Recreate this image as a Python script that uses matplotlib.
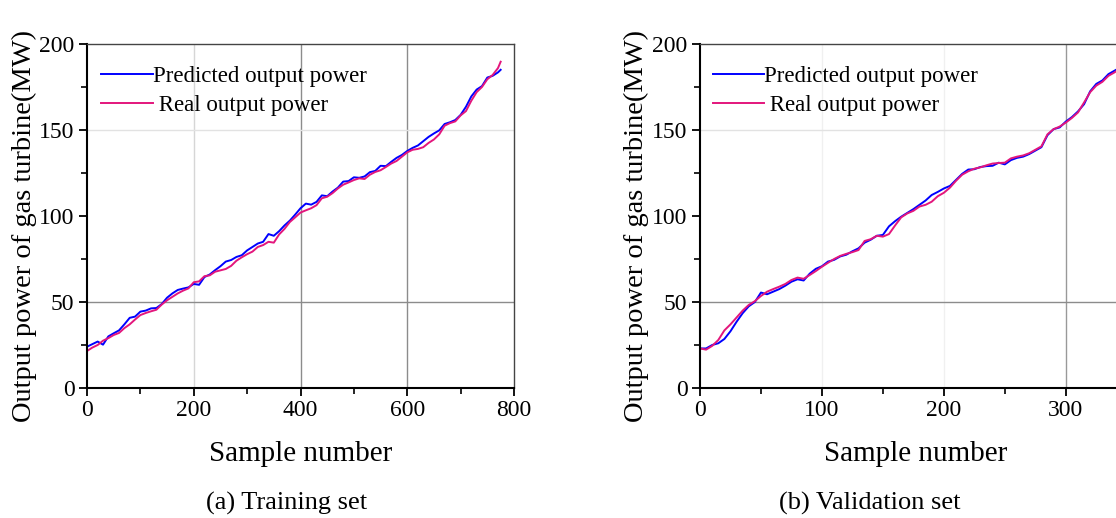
"""Predicted vs real gas turbine output power (training / validation)."""
import matplotlib
matplotlib.use("Agg")
import matplotlib.pyplot as plt
from matplotlib.ticker import MultipleLocator

plt.rcParams["font.family"] = ["Liberation Serif", "DejaVu Serif"]

# ---- data ----
train_samples = list(range(0, 780, 10)) + [775]
train_samples = sorted(set(train_samples))
train_real = [21.5, 23.5, 25, 27.5, 29, 30.8, 32, 34.8, 37, 39.8,
              42.4, 43.6, 44.6, 45.5, 48.5, 51, 53, 55, 56.6, 57.9,
              61.5, 62, 65, 65.5, 67.6, 68.4, 69.2, 71, 74, 76,
              77.8, 79.3, 82, 83.1, 85, 84.5, 89.3, 92.5, 96.5, 99.2,
              102, 103.3, 104.5, 106.3, 110.3, 111.2, 113.3, 116, 118.2, 119.5,
              120.9, 121.9, 121.5, 124, 125.6, 126.6, 128.5, 130.5, 132, 134.5,
              137, 138.5, 139, 140, 142.5, 144.5, 147.5, 152.5, 154, 155,
              158.5, 161, 167, 172, 175, 179.5, 182, 186, 189.7]
train_pred = [24, 25.5, 27, 25.2, 30, 31.8, 33.5, 37, 40.8, 41.5,
              44.4, 45, 46.3, 46.5, 48.8, 52.5, 55, 57, 57.8, 58.5,
              60.5, 60, 64.5, 66, 68.5, 70.8, 73.5, 74.4, 76.2, 77.2,
              80, 82, 84, 85, 89.5, 88.5, 91.2, 94.5, 97.3, 100.8,
              104.5, 107.2, 106.6, 108.2, 112, 111.5, 114.2, 116.5, 120, 120.3,
              122.5, 122.2, 123, 125.5, 126.2, 129.2, 129, 131.5, 133.8, 135.5,
              137.8, 139.6, 141, 143.5, 146, 148, 149.8, 153.5, 154.5, 155.8,
              158.8, 163.5, 169.5, 173.5, 175.5, 180.5, 181.5, 183.5, 185]

val_samples = list(range(0, 350, 5))
val_real = [23, 22.3, 24.5, 27.9, 33.5, 37, 41, 45, 48.3, 50.5,
            53.5, 56, 57.5, 58.9, 60.5, 62.8, 64.2, 63.5, 65.7, 68,
            70.5, 72.8, 75, 76.8, 78, 79, 80.2, 85.5, 86.5, 88.5,
            88, 89.5, 94.5, 99.2, 101.5, 103, 105.5, 106.5, 108.3, 111.5,
            113.5, 116.5, 120.5, 124, 126, 127.5, 128.3, 129.5, 130.5, 130.8,
            131, 133.5, 134.5, 135.2, 136.5, 138.5, 140.5, 147.5, 150.5, 152,
            154.3, 157, 160.2, 166, 172, 175.8, 178, 181.5, 183.5, 186]
val_pred = [23, 23, 25, 26, 28.5, 33, 38.5, 43.5, 47.5, 50,
            55.5, 54.5, 56, 57.5, 59.5, 61.8, 63.2, 62.5, 66.5, 69.3,
            70.8, 73.5, 74.5, 76.5, 77.5, 79.5, 81.2, 84.5, 86.2, 88.5,
            89, 94, 97, 99.6, 101.8, 104, 106.5, 109, 112.2, 114,
            116, 117.5, 121, 124.5, 127, 127.2, 128.5, 129, 129.2, 131,
            130, 132.5, 133.8, 134.5, 136, 138, 140, 147, 150.5, 151.5,
            154.9, 157.5, 160.8, 165, 172.5, 176.8, 178.8, 182.5, 184.5, 186.5]

BLUE = "#0000ff"
PINK = "#e3167c"

fig = plt.figure(figsize=(11.16, 5.18), dpi=100)
ax1 = fig.add_axes([87 / 1116, 130 / 518, 427 / 1116, 344 / 518])
# the validation panel is cut by the right edge of the picture
ax2 = fig.add_axes([700 / 1116, 130 / 518, 417 / 1116, 344 / 518])


def style(ax, xmax, xmajor, vgrid, hgrid, lab_x):
    ax.set_xlim(0, xmax)
    ax.set_ylim(0, 200)
    ax.xaxis.set_major_locator(MultipleLocator(xmajor))
    ax.xaxis.set_minor_locator(MultipleLocator(xmajor / 2))
    ax.yaxis.set_major_locator(MultipleLocator(50))
    ax.yaxis.set_minor_locator(MultipleLocator(25))
    ax.tick_params(which="major", direction="out", length=6, width=1.3,
                   labelsize=17, top=False, right=False, pad=3)
    ax.tick_params(which="minor", direction="out", length=4, width=1.2,
                   top=False, right=False)
    for s in ("left", "bottom"):
        ax.spines[s].set_linewidth(1.5)
    for s in ("top", "right"):
        ax.spines[s].set_linewidth(1.0)
        ax.spines[s].set_color("#444444")
    # grid lines with the uneven shades of the original
    for x, c in vgrid.items():
        ax.axvline(x, color=c, lw=1.0, zorder=0)
    for y, c in hgrid.items():
        ax.axhline(y, color=c, lw=1.0, zorder=0)
    ax.set_xlabel("Sample number", fontsize=21)
    ax.set_ylabel("Output power of gas turbine(MW)", fontsize=20.5)
    ax.yaxis.set_label_coords(lab_x, 0.47)


style(ax1, 800, 200, {200: "#d6d6d6", 400: "#8c8c8c", 600: "#8c8c8c"},
      {50: "#8c8c8c", 150: "#e2e2e2"}, -0.117)
style(ax2, 342, 100, {100: "#f0f0f0", 200: "#f0f0f0", 300: "#999999"},
      {50: "#8c8c8c", 150: "#e2e2e2"}, -0.122)
ax2.spines["right"].set_visible(False)
ax1.xaxis.set_label_coords(0.5, -0.155)
ax2.xaxis.set_label_coords(0.516, -0.155)

for ax, xs, pred, real, lx in [(ax1, train_samples, train_pred, train_real, 0.033),
                               (ax2, val_samples, val_pred, val_real, 0.031)]:
    ax.plot(xs, pred, color=BLUE, lw=1.4, label="Predicted output power")
    ax.plot(xs, real, color=PINK, lw=1.4, label=" Real output power")
    ax.legend(loc="upper left", bbox_to_anchor=(lx, 0.935), frameon=False,
              fontsize=16.5, handlelength=2.25, handletextpad=0.0,
              borderpad=0, borderaxespad=0, labelspacing=0.35)

fig.text(287 / 1116, 1 - 503 / 518, "(a) Training set", fontsize=19,
         ha="center", va="center")
fig.text(870 / 1116, 1 - 503 / 518, "(b) Validation set", fontsize=19,
         ha="center", va="center")

fig.savefig("out.png", dpi=100)
